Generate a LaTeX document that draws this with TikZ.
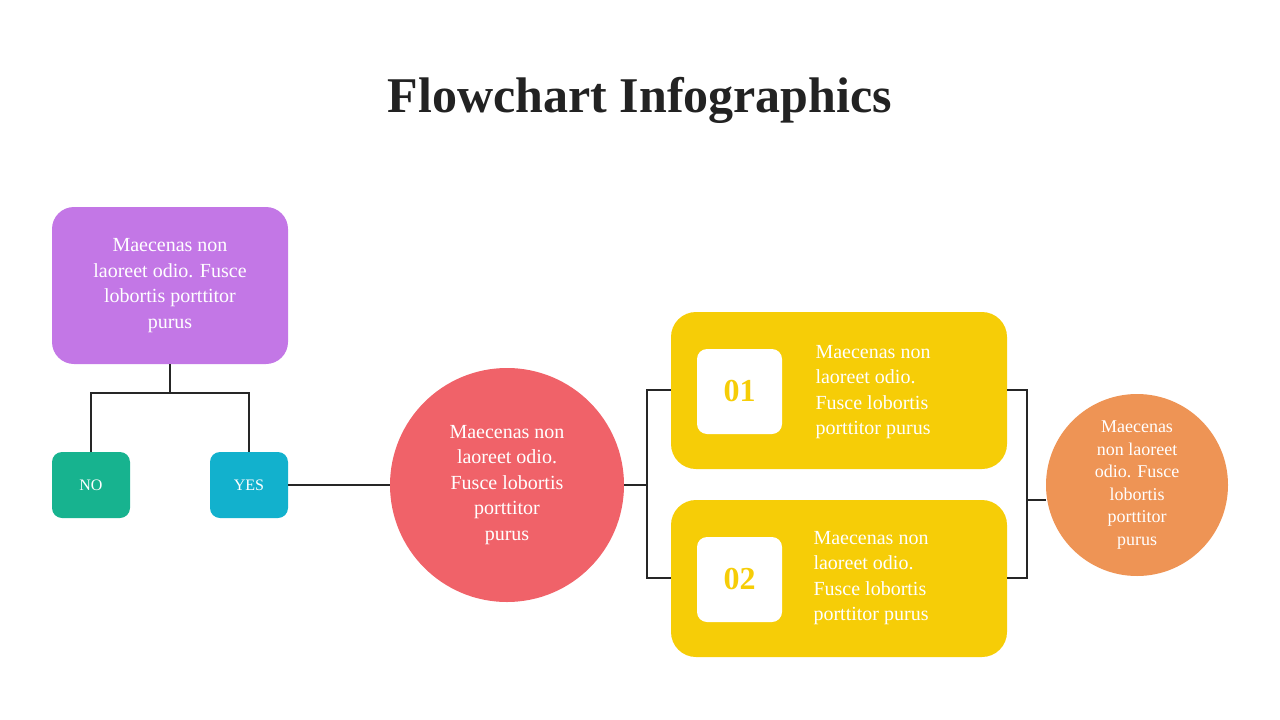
\documentclass[tikz,border=0pt]{standalone}
\usepackage{fontspec}
\setmainfont{Liberation Serif}
\definecolor{purp}{HTML}{C377E6}
\definecolor{grn}{HTML}{17B38F}
\definecolor{cyn}{HTML}{12B1CD}
\definecolor{redc}{HTML}{F06269}
\definecolor{yel}{HTML}{F6CD07}
\definecolor{orn}{HTML}{EE9455}
\definecolor{ttl}{HTML}{222222}
\begin{document}
\begin{tikzpicture}[x=1pt,y=-1pt,
  txt/.style={text=white,font=\fontsize{20}{25.5}\selectfont,align=center},
  box/.style={rounded corners=22pt,inner sep=0pt},
  conn/.style={draw=black!85,line width=1.2pt}]
\useasboundingbox (0,0) rectangle (1280,720);
\node[font=\fontsize{50}{60}\selectfont\bfseries,text=ttl] (title) at (640,100) {Flowchart Infographics};
\node[box,fill=purp,minimum width=236pt,minimum height=157pt] (p) at (170,285.5) {};
\node[txt] at (p) {Maecenas non\\laoreet odio. Fusce\\lobortis porttitor\\purus};
\node[box,rounded corners=10pt,fill=grn,minimum width=78pt,minimum height=66pt] (no) at (91,485) {};
\node[text=white,font=\fontsize{16}{18}\selectfont] at (no) {NO};
\node[box,rounded corners=10pt,fill=cyn,minimum width=78pt,minimum height=66pt] (yes) at (249,485) {};
\node[text=white,font=\fontsize{16}{18}\selectfont] at (yes) {YES};
\coordinate (pj) at (170,393);
\draw[conn] (p.south) -- (pj);
\draw[conn] (no.north) |- (pj) -| (yes.north);
\node[circle,fill=redc,minimum size=234pt,inner sep=0pt] (c) at (507,485) {};
\node[txt] at (c) {Maecenas non\\laoreet odio.\\Fusce lobortis\\porttitor\\purus};
\draw[conn] (yes.east) -- (c.west);
\node[box,rounded corners=25pt,fill=yel,minimum width=336pt,minimum height=157pt] (y1) at (839,390.5) {};
\node[box,rounded corners=25pt,fill=yel,minimum width=336pt,minimum height=157pt] (y2) at (839,578.5) {};
\node[box,rounded corners=10pt,fill=white,minimum width=85pt,minimum height=85pt,text=yel,font=\fontsize{32}{36}\selectfont\bfseries] (s1) at (739.5,391.5) {01};
\node[box,rounded corners=10pt,fill=white,minimum width=85pt,minimum height=85pt,text=yel,font=\fontsize{32}{36}\selectfont\bfseries] (s2) at (739.5,579.5) {02};
\node[txt,align=left,anchor=west] at (812,392) {Maecenas non\\laoreet odio.\\Fusce lobortis\\porttitor purus};
\node[txt,align=left,anchor=west] at (810,578) {Maecenas non\\laoreet odio.\\Fusce lobortis\\porttitor purus};
\coordinate (lj) at (647,485);
\draw[conn] (c.east) -- (lj);
\draw[conn] (y1.west |- 0,390) -| (lj) |- (y2.west |- 0,578);
\node[circle,fill=orn,minimum size=182pt,inner sep=0pt] (o) at (1137,485) {};
\node[text=white,font=\fontsize{18}{22.5}\selectfont,align=center] at (o) {Maecenas\\non laoreet\\odio. Fusce\\lobortis\\porttitor\\purus};
\coordinate (rj) at (1027,500);
\draw[conn] (y1.east |- 0,390) -| (rj) |- (y2.east |- 0,578);
\draw[conn] (rj) -- (o.west |- rj);
\end{tikzpicture}
\end{document}
